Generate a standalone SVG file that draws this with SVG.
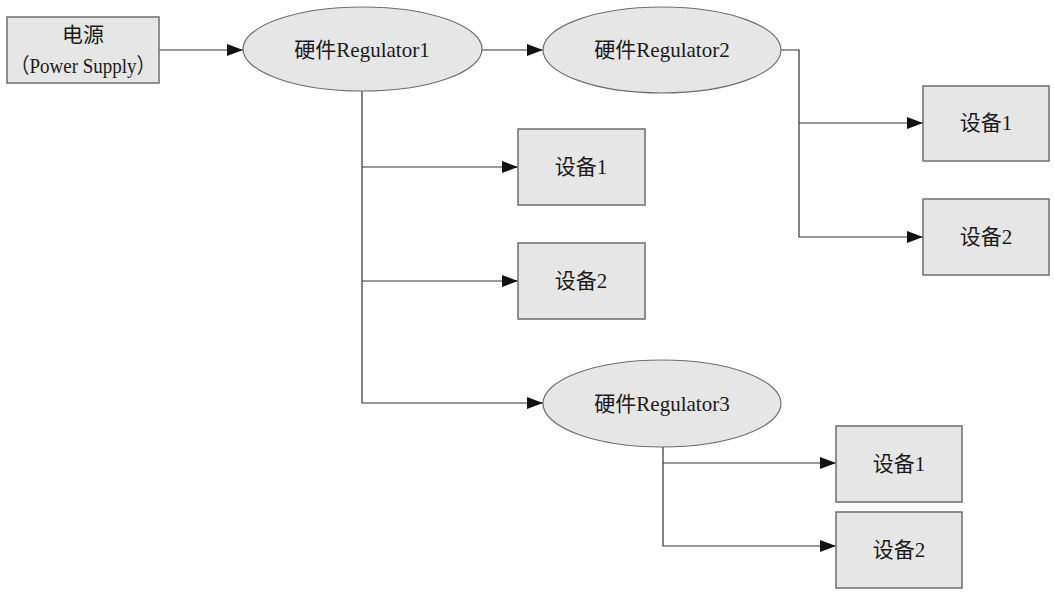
<svg xmlns="http://www.w3.org/2000/svg" width="1054" height="598" viewBox="0 0 1054 598">
<style>
.box{fill:#e6e6e6;stroke:#6e6e6e;stroke-width:1.5}
.ell{fill:#e6e6e6;stroke:#6e6e6e;stroke-width:1.2}
.t{font-family:"Liberation Serif","Noto Sans CJK SC",serif;font-size:21px;fill:#1a1a1a;text-anchor:middle}
.c{fill:none;stroke:#333;stroke-width:1.2}
</style>
<defs>
<marker id="arr" viewBox="0 0 16 12" refX="16" refY="6" markerWidth="16" markerHeight="12" markerUnits="userSpaceOnUse" orient="auto">
<path d="M0,0 L16,6 L0,12 Z" fill="#111"/>
</marker>
</defs>
<rect width="1054" height="598" fill="#fff"/>
<g id="connectors">
<path class="c" d="M159,50 H243" marker-end="url(#arr)"/>
<path class="c" d="M482,50 H543" marker-end="url(#arr)"/>
<path class="c" d="M362,91 V403 H543" marker-end="url(#arr)"/>
<path class="c" d="M362,167 H518" marker-end="url(#arr)"/>
<path class="c" d="M362,281 H518" marker-end="url(#arr)"/>
<path class="c" d="M781,50 H799 V237 H923" marker-end="url(#arr)"/>
<path class="c" d="M799,123 H923" marker-end="url(#arr)"/>
<path class="c" d="M663,447 V546 H836" marker-end="url(#arr)"/>
<path class="c" d="M663,463 H836" marker-end="url(#arr)"/>
</g>
<g id="power">
<rect class="box" x="7" y="17" width="152" height="66"/>
<text class="t" x="83" y="42">电源</text>
<text class="t" x="83" y="73" font-size="20" textLength="145" lengthAdjust="spacingAndGlyphs">（Power Supply）</text>
</g>
<g id="reg1">
<ellipse class="ell" cx="362.5" cy="49" rx="119.5" ry="42"/>
<text class="t" x="362" y="57">硬件Regulator1</text>
</g>
<g id="reg2">
<ellipse class="ell" cx="662" cy="50" rx="119" ry="43"/>
<text class="t" x="662" y="57">硬件Regulator2</text>
</g>
<g id="reg3">
<ellipse class="ell" cx="662" cy="403.5" rx="119" ry="43.5"/>
<text class="t" x="662" y="411">硬件Regulator3</text>
</g>
<g id="dev1a">
<rect class="box" x="518" y="129" width="127" height="76"/>
<text class="t" x="581" y="174">设备1</text>
</g>
<g id="dev2a">
<rect class="box" x="518" y="243" width="127" height="76"/>
<text class="t" x="581" y="288">设备2</text>
</g>
<g id="dev1b">
<rect class="box" x="923" y="86" width="126" height="75"/>
<text class="t" x="986" y="130">设备1</text>
</g>
<g id="dev2b">
<rect class="box" x="923" y="199" width="126" height="76"/>
<text class="t" x="986" y="244">设备2</text>
</g>
<g id="dev1c">
<rect class="box" x="836" y="426" width="126" height="76"/>
<text class="t" x="899" y="471">设备1</text>
</g>
<g id="dev2c">
<rect class="box" x="836" y="512" width="126" height="76"/>
<text class="t" x="899" y="557">设备2</text>
</g>
</svg>
